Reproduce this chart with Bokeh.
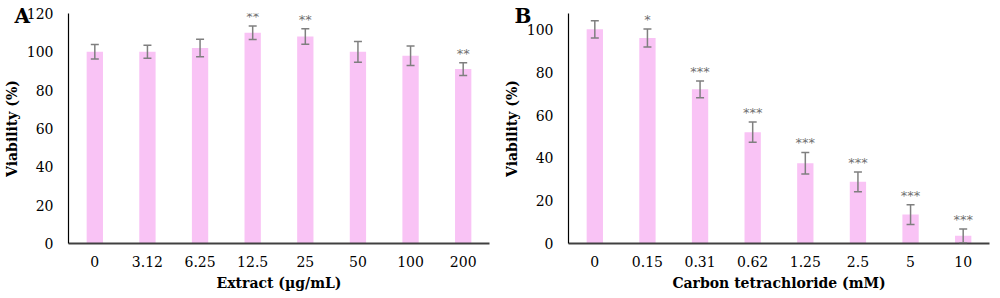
from bokeh.plotting import figure
from bokeh.models import Whisker, ColumnDataSource
from bokeh.layouts import row
from bokeh.embed import file_html
from bokeh.resources import INLINE
from bokeh.core.properties import value

# Panel A data
a_cats = ["0", "3.12", "6.25", "12.5", "25", "50", "100", "200"]
a_vals = [100, 100, 102, 110, 108, 100, 98, 91]
a_errs = [3.8, 3.4, 4.6, 3.5, 4.0, 5.4, 5.1, 3.3]
a_sig = ["", "", "", "**", "**", "", "", "**"]

# Panel B data
b_cats = ["0", "0.15", "0.31", "0.62", "1.25", "2.5", "5", "10"]
b_vals = [100, 96, 72, 52, 37.5, 28.8, 13.5, 3.6]
b_errs = [4.0, 4.2, 3.9, 4.7, 5.0, 4.6, 4.6, 3.2]
b_sig = ["", "*", "***", "***", "***", "***", "***", "***"]

FONT = "DejaVu Serif"
BAR = "#F9C3F5"
ERR = "#7F7F7F"


def panel(cats, vals, errs, sig, y_end, xlabel, letter, top, bottom):
    src = ColumnDataSource(dict(
        x=cats, top=vals,
        upper=[v + e for v, e in zip(vals, errs)],
        lower=[v - e for v, e in zip(vals, errs)],
        sig=sig,
    ))
    p = figure(x_range=cats, y_range=(0, y_end), width=500, height=298,
               output_backend="svg", toolbar_location=None,
               min_border_left=57, min_border_right=11,
               min_border_top=top, min_border_bottom=bottom,
               title=letter)
    p.title.align = "left"
    p.title.offset = -54
    p.title.standoff = -28
    p.title.vertical_align = "bottom"
    p.title.text_font = FONT
    p.title.text_font_style = "bold"
    p.title.text_font_size = "20px"
    p.title.text_color = "#000000"
    p.outline_line_color = None
    p.grid.grid_line_color = None
    p.x_range.range_padding = 0
    p.vbar(x="x", top="top", width=0.31, source=src, fill_color=BAR, line_color=None)
    w = Whisker(source=src, base="x", upper="upper", lower="lower",
                line_color=ERR, line_width=1.5, level="overlay")
    w.upper_head.line_color = ERR
    w.lower_head.line_color = ERR
    w.upper_head.size = 8
    w.lower_head.size = 8
    w.upper_head.line_width = 1.5
    w.lower_head.line_width = 1.5
    p.add_layout(w)
    p.text(x="x", y="upper", text="sig", source=src, text_align="center",
           text_baseline="bottom", y_offset=-2, text_font_size="13px",
           text_color="#707070", text_font=value("DejaVu Sans"))
    for ax in (p.xaxis[0], p.yaxis[0]):
        ax.major_tick_line_color = None
        ax.minor_tick_line_color = None
        ax.major_label_text_font = FONT
        ax.major_label_text_font_size = "14px"
        ax.major_label_text_color = "#000000"
        ax.axis_label_text_font = FONT
        ax.axis_label_text_font_style = "bold"
        ax.axis_label_text_font_size = "14px"
        ax.axis_label_text_color = "#000000"
    p.xaxis.axis_line_color = "#404040"
    p.xaxis.axis_line_width = 2
    p.yaxis.axis_line_color = "#000000"
    p.yaxis.axis_line_width = 1.2
    p.xaxis.axis_label = xlabel
    p.yaxis.axis_label = "Viability (%)"
    p.xaxis.major_label_standoff = 6
    p.yaxis.major_label_standoff = 9
    p.xaxis.axis_label_standoff = 5
    p.yaxis.axis_label_standoff = 4
    p.yaxis.ticker = list(range(0, int(y_end) + 1, 20))
    return p


pa = panel(a_cats, a_vals, a_errs, a_sig, 120, "Extract (µg/mL)", "A", 13, 51)
pb = panel(b_cats, b_vals, b_errs, b_sig, 107.4, "Carbon tetrachloride (mM)", "B", 12, 55)

layout = row(pa, pb)
open("out.html", "w").write(file_html(layout, INLINE))
